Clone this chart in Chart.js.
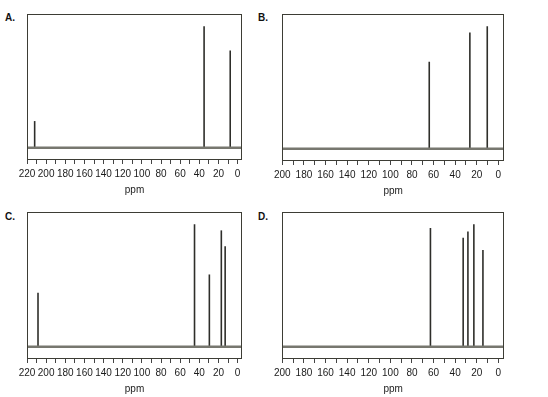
<!DOCTYPE html>
<html><head><meta charset="utf-8">
<script src="https://cdn.jsdelivr.net/npm/chart.js@4/dist/chart.umd.min.js"></script>
<style>
html,body{margin:0;padding:0;background:#fff;width:548px;height:397px;overflow:hidden;font-family:"Liberation Sans",Arial,sans-serif;}
.p{position:absolute;}
.lab{position:absolute;font:bold 10px "Liberation Sans",Arial,sans-serif;color:#111;}
</style></head><body>
<div class="lab" style="left:5px;top:12px">A.</div>
<div class="lab" style="left:258px;top:12px">B.</div>
<div class="lab" style="left:5px;top:211px">C.</div>
<div class="lab" style="left:258px;top:211px">D.</div>
<div class="p" style="left:0;top:0;width:270px;height:200px"><canvas id="cA"></canvas></div>
<div class="p" style="left:270px;top:0;width:278px;height:200px"><canvas id="cB"></canvas></div>
<div class="p" style="left:0;top:198px;width:270px;height:199px"><canvas id="cC"></canvas></div>
<div class="p" style="left:270px;top:198px;width:278px;height:199px"><canvas id="cD"></canvas></div>
<script>
// chemical shifts (ppm) and relative peak heights
const shiftsA = [212, 35, 7.7];
const heightsA = [22, 100, 80];
const shiftsB = [64, 26.4, 10.3];
const heightsB = [71, 95, 100];
const shiftsC = [208.5, 45, 29.5, 17, 13];
const heightsC = [44, 100, 59, 95, 82];
const shiftsD = [62.9, 32.6, 28.2, 22.7, 14.3];
const heightsD = [97, 89, 94, 100, 79];
// tick positions (ppm); labels shown at multiples of 20
const ticks220 = [220,210,200,190,180,170,160,150,140,130,120,110,100,90,80,70,60,50,40,30,20,10,0];
const ticks200 = [200,190,180,170,160,150,140,130,120,110,100,90,80,70,60,50,40,30,20,10,0];
const axisTitle = 'ppm';

const boxPlugin = {
  id:'box',
  afterDraw(chart){
    const a = chart.chartArea, ctx = chart.ctx;
    ctx.save();
    ctx.strokeStyle = '#3d3d35';
    ctx.lineWidth = 1;
    ctx.strokeRect(Math.round(a.left)+0.5, Math.round(a.top)+0.5, Math.round(a.right-a.left)-1, Math.round(a.bottom-a.top)-1);
    ctx.restore();
  }
};

function makeChart(id, shifts, heights, xmax, xmin, tickVals, pad){
  const datasets = [{
    data:[{x:xmax,y:0},{x:xmin,y:0}],
    showLine:true, borderColor:'#77776f', borderWidth:2.5, pointRadius:0
  }];
  shifts.forEach((s,i)=>{
    datasets.push({
      data:[{x:s,y:0},{x:s,y:heights[i]}],
      showLine:true, borderColor:'#2e2e2a', borderWidth:1.6, pointRadius:0
    });
  });
  new Chart(document.getElementById(id),{
    type:'scatter',
    data:{datasets},
    plugins:[boxPlugin],
    options:{
      responsive:true, maintainAspectRatio:false, animation:false,
      layout:{padding:pad},
      plugins:{legend:{display:false},tooltip:{enabled:false}},
      scales:{
        x:{
          type:'linear', reverse:true, min:xmin, max:xmax,
          afterBuildTicks:(sc)=>{sc.ticks = tickVals.map(v=>({value:v}));},
          ticks:{
            autoSkip:false, maxRotation:0, minRotation:0, padding:4,
            color:'#1a1a1a', font:{family:'"Liberation Sans", Arial, sans-serif', size:10},
            callback:(v)=> (v % 20 === 0 ? String(v) : '')
          },
          grid:{drawOnChartArea:false, drawTicks:true, tickLength:4, color:'#444'},
          border:{display:false},
          title:{display:true, text:axisTitle, color:'#222', padding:{top:0,bottom:0},
                 font:{family:'"Liberation Sans", Arial, sans-serif', size:10}}
        },
        y:{display:false, min:-10, max:110}
      }
    }
  });
}
makeChart('cA', shiftsA, heightsA, 220, -4.6, ticks220, {left:27, right:28, top:14, bottom:4});
makeChart('cB', shiftsB, heightsB, 200, -5.2, ticks200, {left:12, right:44, top:14, bottom:3});
makeChart('cC', shiftsC, heightsC, 220, -4.6, ticks220, {left:27, right:28, top:14, bottom:2});
makeChart('cD', shiftsD, heightsD, 200, -5.2, ticks200, {left:12, right:44, top:14, bottom:2});
</script>
</body></html>
